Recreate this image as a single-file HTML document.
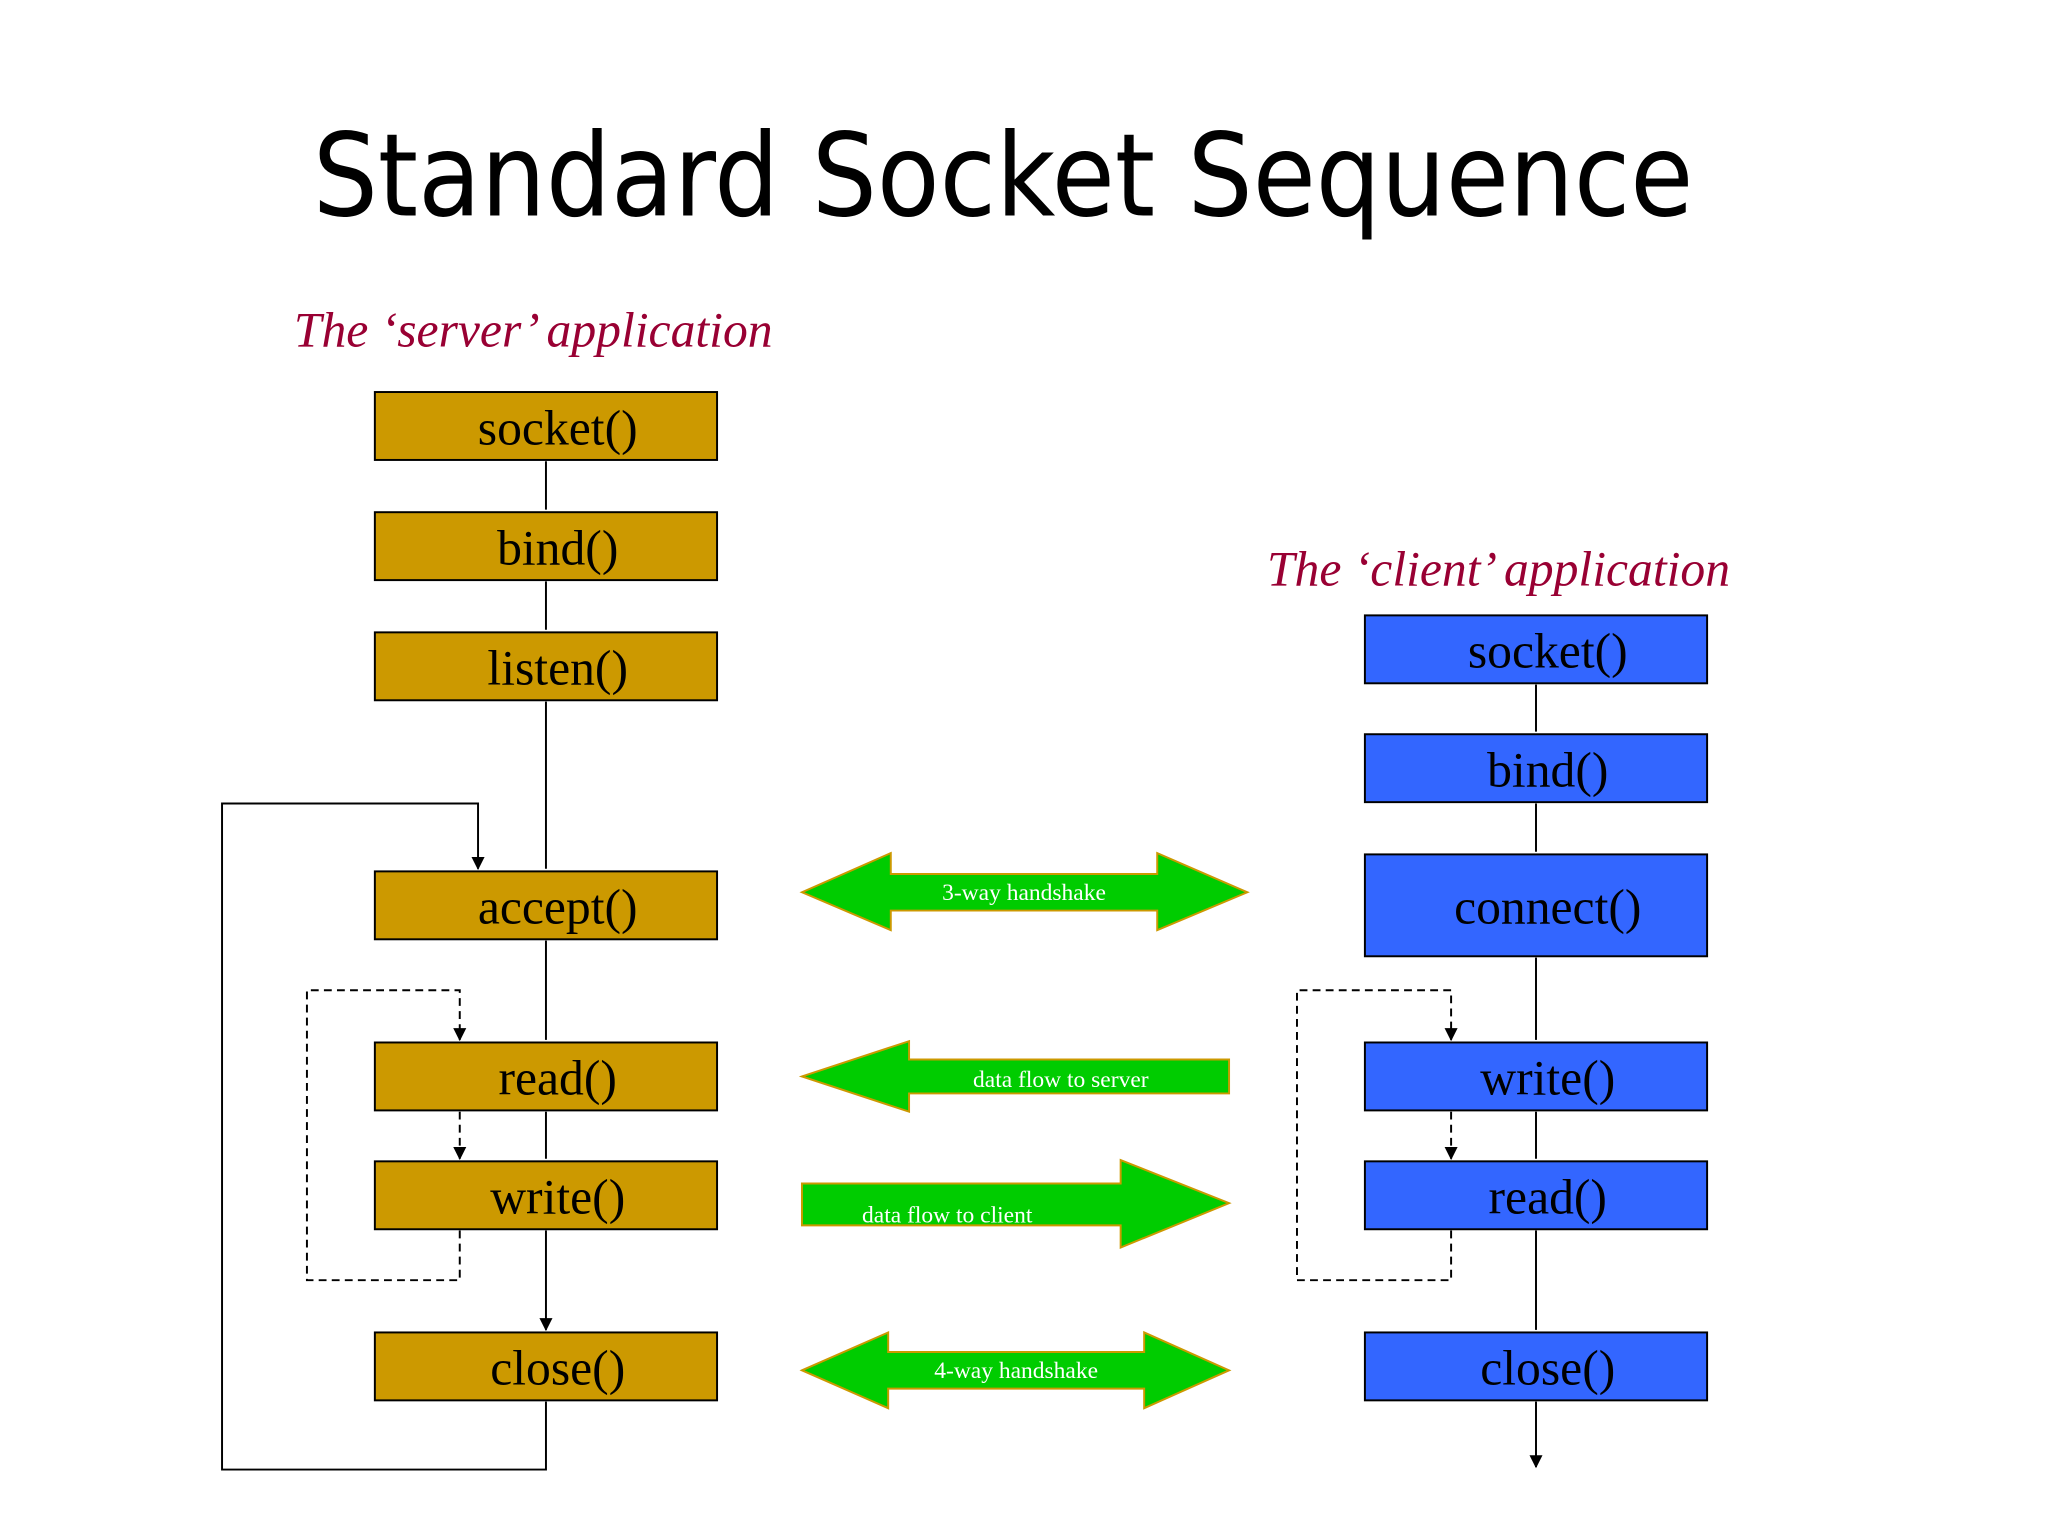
<!DOCTYPE html>
<html><head><meta charset="utf-8"><style>html,body{margin:0;padding:0;background:#fff}svg{display:block}</style></head><body>
<svg width="2048" height="1539" viewBox="0 0 1568 1178" xmlns="http://www.w3.org/2000/svg">
<defs><marker id="a" markerWidth="10" markerHeight="10" refX="9" refY="5" orient="auto" markerUnits="userSpaceOnUse"><path d="M0,0 L10,5 L0,10 z" fill="#000" transform="translate(0,0)"/></marker></defs>
<rect width="1568" height="1178" fill="#fff"/>
<text x="768" y="165" text-anchor="middle" font-family="DejaVu Sans, sans-serif" font-size="88" textLength="1057" lengthAdjust="spacingAndGlyphs" fill="#000">Standard Socket Sequence</text>
<g font-family="Liberation Serif, serif" font-style="italic" font-size="38" fill="#990033">
<text x="225" y="265">The ‘server’ application</text>
<text x="970" y="448">The ‘client’ application</text>
</g>
<g stroke="#000" stroke-width="1.5" fill="none">
<path d="M418 353V390M418 445V482M418 537V665M418 720V796M418 851V887M418 942V1018" marker-end="url(#a)"/>
<path d="M418 1073V1125H170V615H366V665" marker-end="url(#a)"/>
<path d="M1176 524V560M1176 615V652M1176 733V796M1176 851V887M1176 942V1018M1176 1073V1123" marker-end="url(#a)"/>
<g stroke-dasharray="6,4">
<path d="M352 942V980H235V758H352V796" marker-end="url(#a)"/>
<path d="M352 851V887" marker-end="url(#a)"/>
<path d="M1111 942V980H993V758H1111V796" marker-end="url(#a)"/>
<path d="M1111 851V887" marker-end="url(#a)"/>
</g>
</g>
<g fill="#CC9900" stroke="#000" stroke-width="1.5">
<rect x="287" y="300" width="262" height="52"/><rect x="287" y="392" width="262" height="52"/><rect x="287" y="484" width="262" height="52"/>
<rect x="287" y="667" width="262" height="52"/><rect x="287" y="798" width="262" height="52"/><rect x="287" y="889" width="262" height="52"/><rect x="287" y="1020" width="262" height="52"/>
</g>
<g fill="#3366FF" stroke="#000" stroke-width="1.5">
<rect x="1045" y="471" width="262" height="52"/><rect x="1045" y="562" width="262" height="52"/><rect x="1045" y="654" width="262" height="78"/>
<rect x="1045" y="798" width="262" height="52"/><rect x="1045" y="889" width="262" height="52"/><rect x="1045" y="1020" width="262" height="52"/>
</g>
<g font-family="Liberation Serif, serif" font-size="38" fill="#000" text-anchor="middle">
<text x="427" y="340">socket()</text><text x="427" y="432">bind()</text><text x="427" y="524">listen()</text>
<text x="427" y="707">accept()</text><text x="427" y="838">read()</text><text x="427" y="929">write()</text><text x="427" y="1060">close()</text>
<text x="1185" y="511">socket()</text><text x="1185" y="602">bind()</text><text x="1185" y="707">connect()</text>
<text x="1185" y="838">write()</text><text x="1185" y="929">read()</text><text x="1185" y="1060">close()</text>
</g>
<g fill="#00CC00" stroke="#CC9900" stroke-width="1.5">
<path d="M614 683L682 653V669H886V653L955 683L886 712V697H682V712Z"/>
<path d="M614 824L696 797V811H941V837H696V851Z"/>
<path d="M614 906H858V888L941 921L858 955V938H614Z"/>
<path d="M614 1049L680 1020V1035H876V1020L941 1049L876 1078V1063H680V1078Z"/>
</g>
<g font-family="Liberation Serif, serif" font-size="18" fill="#fff">
<text x="784" y="689" text-anchor="middle">3-way handshake</text>
<text x="745" y="832">data flow to server</text>
<text x="660" y="936">data flow to client</text>
<text x="778" y="1055" text-anchor="middle">4-way handshake</text>
</g>
</svg>
</body></html>
